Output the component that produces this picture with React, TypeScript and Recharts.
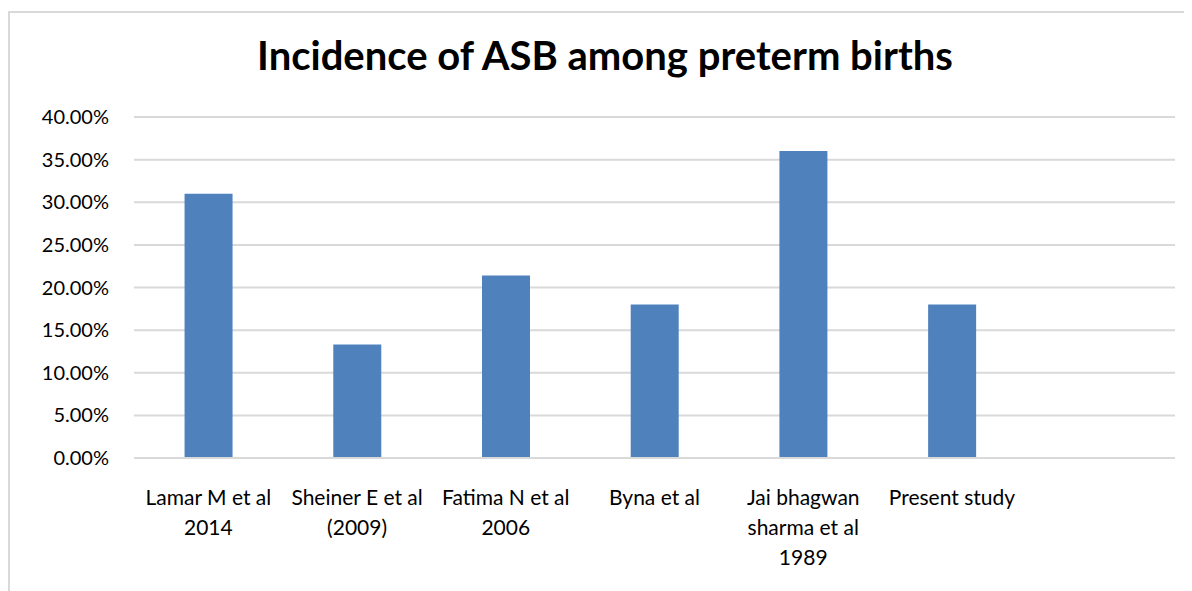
import { BarChart, Bar, XAxis, YAxis, CartesianGrid } from "recharts";

const categories = [
  "Lamar M et al\n2014",
  "Sheiner E et al\n(2009)",
  "Fatima N et al\n2006",
  "Byna et al",
  "Jai bhagwan\nsharma et al\n1989",
  "Present study",
  "",
];

const incidence: (number | null)[] = [0.31, 0.133, 0.214, 0.18, 0.36, 0.18, null];

const yTicks = [0, 0.05, 0.1, 0.15, 0.2, 0.25, 0.3, 0.35, 0.4];

const data = categories.map((name, i) => ({ name, value: incidence[i] }));

const FONT = "Lato, 'Open Sans', sans-serif";

function formatPct(v: number) {
  return (v * 100).toFixed(2) + "%";
}

function CategoryTick(props: any) {
  const { x, y, payload } = props;
  const lines = String(payload.value).split("\n");
  return (
    <text
      x={x}
      y={y + 47}
      textAnchor="middle"
      fill="#000"
      fontSize={21}
      fontFamily={FONT}
    >
      {lines.map((line, i) => (
        <tspan key={i} x={x} dy={i === 0 ? 0 : 30}>
          {line}
        </tspan>
      ))}
    </text>
  );
}

export default function App() {
  return (
    <div
      style={{
        position: "relative",
        width: 1184,
        height: 583,
        fontFamily: FONT,
      }}
    >
      <div
        style={{
          position: "absolute",
          left: 0,
          top: 3,
          width: 1190,
          height: 600,
          borderLeft: "2px solid #d9d9d9",
          borderTop: "2px solid #d9d9d9",
        }}
      />
      <div
        style={{
          position: "absolute",
          left: 0,
          top: 23,
          width: 1194,
          textAlign: "center",
          fontSize: 40,
          fontWeight: 700,
          color: "#000",
        }}
      >
        Incidence of ASB among preterm births
      </div>
      <div style={{ position: "absolute", left: 0, top: 0 }}>
        <BarChart
          width={1184}
          height={583}
          data={data}
          margin={{ top: 109, right: 17, left: 0, bottom: 0 }}
          barCategoryGap="34%"
        >
          <CartesianGrid vertical={false} stroke="#d9d9d9" strokeWidth={2} />
          <XAxis
            dataKey="name"
            interval={0}
            height={133}
            tickLine={false}
            tickSize={0}
            tickMargin={0}
            axisLine={{ stroke: "#d9d9d9", strokeWidth: 2 }}
            tick={<CategoryTick />}
          />
          <YAxis
            width={126}
            domain={[0, 0.4]}
            ticks={yTicks}
            tickFormatter={formatPct}
            axisLine={false}
            tickLine={false}
            tickSize={0}
            tickMargin={25}
            tick={{ fill: "#000", fontSize: 20, fontFamily: FONT }}
          />
          <Bar dataKey="value" fill="#4f81bd" isAnimationActive={false} />
        </BarChart>
      </div>
    </div>
  );
}
